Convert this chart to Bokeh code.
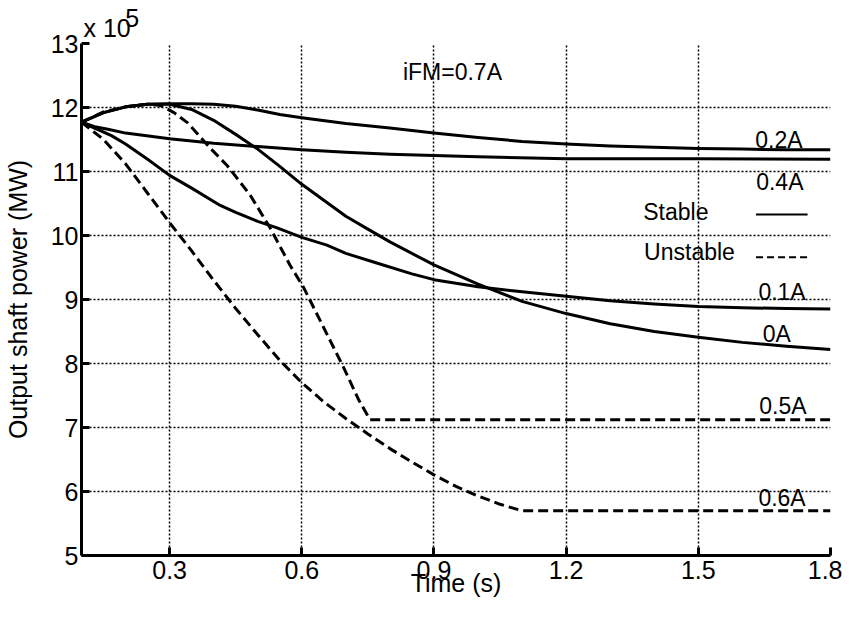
from bokeh.plotting import figure
from bokeh.models import Label, FixedTicker, Range1d, Title
from bokeh.embed import file_html
from bokeh.resources import INLINE

FONT = "Liberation Sans"

# ---------------- data (values x 10^5 MW) ----------------
t_0A = [0.10, 0.15, 0.20, 0.25, 0.30, 0.35, 0.40, 0.45, 0.50, 0.55, 0.60, 0.65,
        0.70, 0.75, 0.80, 0.90, 1.00, 1.10, 1.20, 1.30, 1.40, 1.50, 1.60, 1.70, 1.80]
p_0A = [11.77, 11.92, 12.01, 12.05, 12.05, 11.97, 11.80, 11.58, 11.35, 11.08, 10.80, 10.55,
        10.30, 10.10, 9.90, 9.54, 9.24, 8.97, 8.78, 8.62, 8.50, 8.41, 8.33, 8.27, 8.22]

t_01A = [0.10, 0.168, 0.20, 0.25, 0.30, 0.35, 0.415, 0.45, 0.50, 0.544, 0.60, 0.657,
         0.70, 0.77, 0.85, 0.90, 1.00, 1.10, 1.20, 1.30, 1.40, 1.50, 1.60, 1.70, 1.80]
p_01A = [11.77, 11.56, 11.43, 11.19, 10.94, 10.74, 10.47, 10.36, 10.22, 10.12, 9.97, 9.85,
         9.72, 9.57, 9.40, 9.31, 9.20, 9.12, 9.05, 8.98, 8.93, 8.89, 8.87, 8.86, 8.85]

t_02A = [0.10, 0.15, 0.20, 0.25, 0.30, 0.35, 0.40, 0.45, 0.50, 0.55, 0.60, 0.70,
         0.80, 0.90, 1.00, 1.10, 1.20, 1.30, 1.40, 1.50, 1.60, 1.70, 1.80]
p_02A = [11.77, 11.92, 12.01, 12.05, 12.06, 12.06, 12.05, 12.02, 11.96, 11.89, 11.84, 11.75,
         11.68, 11.60, 11.53, 11.47, 11.43, 11.40, 11.38, 11.36, 11.35, 11.34, 11.34]

t_04A = [0.10, 0.13, 0.16, 0.20, 0.30, 0.40, 0.50, 0.60, 0.70, 0.80, 0.90, 1.00,
         1.20, 1.50, 1.80]
p_04A = [11.77, 11.70, 11.66, 11.60, 11.51, 11.44, 11.39, 11.34, 11.30, 11.27, 11.25, 11.23,
         11.20, 11.20, 11.19]

t_05A = [0.10, 0.15, 0.20, 0.25, 0.28, 0.31, 0.341, 0.393, 0.431, 0.483, 0.528, 0.573,
         0.604, 0.649, 0.694, 0.73, 0.755, 1.80]
p_05A = [11.77, 11.93, 12.01, 12.05, 12.03, 11.92, 11.76, 11.36, 11.09, 10.63, 10.12, 9.54,
         9.19, 8.57, 7.95, 7.42, 7.12, 7.12]

t_06A = [0.10, 0.15, 0.20, 0.25, 0.30, 0.35, 0.40, 0.45, 0.50, 0.55, 0.60, 0.65,
         0.70, 0.75, 0.80, 0.85, 0.90, 0.95, 1.00, 1.05, 1.10, 1.80]
p_06A = [11.77, 11.50, 11.12, 10.66, 10.20, 9.76, 9.30, 8.86, 8.45, 8.05, 7.70, 7.40,
         7.14, 6.90, 6.67, 6.46, 6.26, 6.08, 5.93, 5.80, 5.70, 5.70]

x_ticks = [0.3, 0.6, 0.9, 1.2, 1.5, 1.8]
x_tick_labels = ["0.3", "0.6", "0.9", "1.2", "1.5", "1.8"]
y_ticks = [5, 6, 7, 8, 9, 10, 11, 12, 13]

# curve labels: (text, t, value)
curve_labels = [("0.2A", 1.683, 11.49), ("0.4A", 1.685, 10.83), ("0.1A", 1.690, 9.12),
                ("0A", 1.678, 8.46), ("0.5A", 1.692, 7.33), ("0.6A", 1.690, 5.90)]
legend_x = [1.631, 1.748]
stable_y = 10.33
unstable_y = 9.66

# ---------------- figure ----------------
p = figure(width=842, height=603, x_range=Range1d(0.1, 1.8), y_range=Range1d(5, 13),
           output_backend="svg", toolbar_location=None,
           min_border_left=75, min_border_right=12, min_border_top=40, min_border_bottom=48)
p.outline_line_color = None
p.background_fill_color = "white"
p.border_fill_color = "white"

# exponent label "x 10^5" as a two-line title (superscript line above)
p.title = Title(text="\u00a0\u00a0\u00a0\u00a0\u00a0\u00a05\nx 10", align="left",
                text_font=FONT, text_font_size="25px", text_font_style="normal",
                text_color="black", text_line_height=0.35, standoff=3, offset=2)

for ax in (p.xaxis[0], p.yaxis[0]):
    ax.axis_line_width = 3
    ax.axis_line_color = "black"
    ax.major_tick_in = 8
    ax.major_tick_out = 0
    ax.major_tick_line_width = 3
    ax.major_tick_line_color = "black"
    ax.minor_tick_line_color = None
    ax.major_label_text_font = FONT
    ax.major_label_text_font_size = "25px"
    ax.major_label_text_color = "black"
    ax.axis_label_text_font = FONT
    ax.axis_label_text_font_size = "25px"
    ax.axis_label_text_font_style = "normal"
    ax.axis_label_text_color = "black"

p.xaxis.ticker = FixedTicker(ticks=x_ticks)
p.xaxis.major_label_overrides = {t: s for t, s in zip(x_ticks, x_tick_labels)}
p.xaxis.major_label_standoff = 5
p.xaxis.axis_label = "Time (s)"
p.xaxis.axis_label_standoff = -13

p.yaxis.ticker = FixedTicker(ticks=y_ticks)
p.yaxis.major_label_standoff = 3
p.yaxis.axis_label = "Output shaft power (MW)"
p.yaxis.axis_label_standoff = 16

for g in (p.xgrid[0], p.ygrid[0]):
    g.grid_line_color = "black"
    g.grid_line_width = 1.5
    g.grid_line_dash = "2 2"

solid = dict(line_color="black", line_width=3, line_join="round")
dashed = dict(line_color="black", line_width=3, line_dash="10 5")

p.line(t_02A, p_02A, **solid)
p.line(t_04A, p_04A, **solid)
p.line(t_0A, p_0A, **solid)
p.line(t_01A, p_01A, **solid)
p.line(t_05A, p_05A, **dashed)
p.line(t_06A, p_06A, **dashed)

# legend samples
p.line(legend_x, [stable_y, stable_y], line_color="black", line_width=2)
p.line(legend_x, [unstable_y, unstable_y], line_color="black", line_width=2, line_dash="7 4")


def lab(text, x, y, size="23px"):
    p.add_layout(Label(x=x, y=y, text=text, text_font=FONT, text_font_size=size,
                       text_align="center", text_baseline="middle", text_color="black"))


for txt, tx, ty in curve_labels:
    lab(txt, tx, ty)
lab("Stable", 1.449, 10.36)
lab("Unstable", 1.480, 9.74)
lab("iFM=0.7A", 0.942, 12.55)

open("out.html", "w").write(file_html(p, INLINE))
